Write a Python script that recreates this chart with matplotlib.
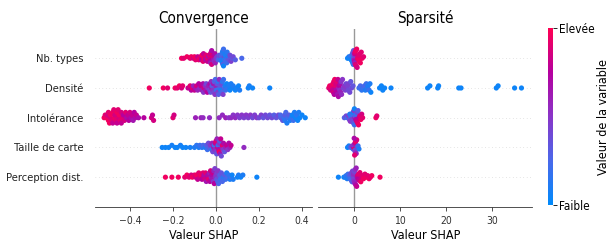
import numpy as np
import matplotlib
matplotlib.use("Agg")
import matplotlib.pyplot as plt
from matplotlib.colors import LinearSegmentedColormap

# ------------------------------
# DATA
# ------------------------------
features = ["Nb. types", "Densité", "Intolérance", "Taille de carte", "Perception dist."]
panel_titles = ["Convergence", "Sparsité"]

conv_types_shap = [-0.16, -0.15, -0.135, -0.12, -0.115, -0.105, -0.10, -0.095, -0.09, -0.085,
                   -0.08, -0.075, -0.07, -0.068, -0.065, -0.06, -0.058, -0.055, -0.05, -0.048,
                   -0.045, -0.04, -0.038, -0.035, -0.03, -0.03, -0.028, -0.025, -0.025, -0.022,
                   -0.02, -0.02, -0.018, -0.015, -0.012, -0.01, -0.008, -0.005, -0.003, 0.0,
                   0.005, 0.01, 0.015, 0.018, 0.02, 0.022, 0.025, 0.027, 0.03, 0.03,
                   0.03, 0.032, 0.033, 0.035, 0.035, 0.037, 0.04, 0.04, 0.042, 0.045,
                   0.047, 0.05, 0.052, 0.055, 0.058, 0.06, 0.065, 0.07, 0.075, 0.08,
                   0.09, 0.12]
conv_types_val = [0.95, 0.9, 0.95, 0.9, 0.95, 0.85, 0.95, 0.9, 0.95, 0.8,
                  0.9, 0.95, 0.85, 0.75, 0.95, 0.9, 0.8, 0.95, 0.85, 0.7,
                  0.9, 0.8, 0.95, 0.7, 0.85, 0.9, 0.75, 0.8, 0.6, 0.9,
                  0.85, 0.7, 0.75, 0.9, 0.65, 0.8, 0.55, 0.7, 0.6, 0.5,
                  0.45, 0.3, 0.35, 0.2, 0.4, 0.15, 0.3, 0.1, 0.2, 0.05,
                  0.15, 0.3, 0.1, 0.05, 0.2, 0.1, 0.4, 0.15, 0.1, 0.25,
                  0.1, 0.2, 0.15, 0.3, 0.1, 0.35, 0.4, 0.45, 0.35, 0.4,
                  0.3, 0.25]

conv_dens_shap = [-0.31, -0.245, -0.225, -0.19, -0.18, -0.17, -0.16, -0.155, -0.13, -0.12,
                  -0.115, -0.11, -0.105, -0.10, -0.095, -0.09, -0.085, -0.08, -0.075, -0.07,
                  -0.065, -0.06, -0.058, -0.055, -0.05, -0.048, -0.045, -0.04, -0.038, -0.035,
                  -0.03, -0.028, -0.025, -0.022, -0.02, -0.018, -0.015, -0.012, -0.01, -0.008,
                  -0.005, -0.003, 0.0, 0.0, 0.003, 0.005, 0.008, 0.01, 0.012, 0.015,
                  0.018, 0.02, 0.022, 0.025, 0.028, 0.03, 0.033, 0.035, 0.04, 0.042,
                  0.045, 0.05, 0.055, 0.06, 0.065, 0.07, 0.075, 0.08, 0.09, 0.095,
                  0.105, 0.11, 0.15, 0.155, 0.17, 0.25]
conv_dens_val = [0.95, 0.95, 0.9, 0.95, 0.9, 0.95, 0.85, 0.9, 0.8, 0.9,
                 0.75, 0.9, 0.6, 0.8, 0.65, 0.85, 0.6, 0.75, 0.55, 0.8,
                 0.6, 0.7, 0.5, 0.85, 0.55, 0.65, 0.4, 0.75, 0.5, 0.6,
                 0.45, 0.7, 0.35, 0.55, 0.6, 0.3, 0.5, 0.65, 0.4, 0.3,
                 0.5, 0.25, 0.4, 0.6, 0.2, 0.35, 0.45, 0.15, 0.3, 0.55,
                 0.2, 0.35, 0.1, 0.4, 0.25, 0.15, 0.45, 0.2, 0.3, 0.1,
                 0.2, 0.05, 0.15, 0.1, 0.05, 0.1, 0.05, 0.1, 0.05, 0.08,
                 0.05, 0.1, 0.05, 0.08, 0.05, 0.05]

conv_intol_shap = [-0.52, -0.515, -0.51, -0.505, -0.50, -0.50, -0.495, -0.49, -0.49, -0.485,
                   -0.48, -0.48, -0.475, -0.47, -0.47, -0.465, -0.46, -0.46, -0.455, -0.45,
                   -0.45, -0.445, -0.44, -0.44, -0.435, -0.43, -0.425, -0.42, -0.415, -0.41,
                   -0.405, -0.40, -0.395, -0.39, -0.385, -0.38, -0.375, -0.37, -0.36, -0.335,
                   -0.30, -0.295, -0.29, -0.20, -0.195, -0.095, -0.07, -0.06, -0.03, 0.015,
                   0.03, 0.045, 0.06, 0.07, 0.08, 0.09, 0.10, 0.11, 0.12, 0.13,
                   0.14, 0.15, 0.16, 0.17, 0.18, 0.19, 0.20, 0.21, 0.22, 0.23,
                   0.24, 0.25, 0.26, 0.27, 0.28, 0.29, 0.30, 0.30, 0.31, 0.315,
                   0.32, 0.32, 0.325, 0.33, 0.335, 0.34, 0.345, 0.35, 0.355, 0.36,
                   0.365, 0.37, 0.375, 0.38, 0.385, 0.39, 0.40, 0.415]
conv_intol_val = [0.95, 0.9, 0.95, 0.85, 0.95, 0.9, 0.95, 0.85, 0.95, 0.9,
                  0.95, 0.8, 0.9, 0.95, 0.85, 0.9, 0.95, 0.8, 0.9, 0.85,
                  0.95, 0.9, 0.85, 0.8, 0.9, 0.75, 0.85, 0.9, 0.7, 0.8,
                  0.75, 0.85, 0.7, 0.8, 0.65, 0.75, 0.7, 0.8, 0.7, 0.75,
                  0.85, 0.8, 0.85, 0.9, 0.85, 0.6, 0.6, 0.55, 0.55, 0.55,
                  0.55, 0.6, 0.5, 0.55, 0.5, 0.55, 0.5, 0.45, 0.5, 0.45,
                  0.5, 0.45, 0.5, 0.4, 0.45, 0.5, 0.4, 0.45, 0.35, 0.4,
                  0.4, 0.35, 0.4, 0.3, 0.35, 0.4, 0.3, 0.25, 0.35, 0.2,
                  0.3, 0.15, 0.25, 0.1, 0.2, 0.3, 0.1, 0.15, 0.05, 0.2,
                  0.1, 0.05, 0.15, 0.05, 0.1, 0.05, 0.05, 0.05]

conv_size_shap = [-0.25, -0.235, -0.22, -0.205, -0.19, -0.18, -0.165, -0.155, -0.14, -0.12,
                  -0.10, -0.09, -0.08, -0.075, -0.065, -0.06, -0.05, -0.045, -0.04, -0.035,
                  -0.03, -0.025, -0.02, -0.018, -0.015, -0.01, -0.008, -0.005, -0.003, 0.0,
                  0.0, 0.003, 0.005, 0.008, 0.01, 0.012, 0.015, 0.015, 0.018, 0.02,
                  0.022, 0.025, 0.028, 0.03, 0.033, 0.035, 0.04, 0.045, 0.05, 0.055,
                  0.06, 0.065, 0.07, 0.13]
conv_size_val = [0.05, 0.05, 0.05, 0.08, 0.05, 0.05, 0.08, 0.05, 0.05, 0.08,
                 0.1, 0.15, 0.1, 0.2, 0.15, 0.25, 0.1, 0.3, 0.2, 0.4,
                 0.3, 0.5, 0.15, 0.6, 0.4, 0.7, 0.25, 0.55, 0.8, 0.45,
                 0.9, 0.35, 0.6, 0.85, 0.2, 0.7, 0.5, 0.95, 0.3, 0.65,
                 0.8, 0.4, 0.6, 0.9, 0.5, 0.7, 0.35, 0.6, 0.8, 0.5,
                 0.7, 0.6, 0.8, 0.55]

conv_perc_shap = [-0.235, -0.205, -0.175, -0.145, -0.135, -0.125, -0.115, -0.11, -0.10, -0.095,
                  -0.09, -0.085, -0.08, -0.075, -0.07, -0.065, -0.06, -0.058, -0.055, -0.05,
                  -0.048, -0.045, -0.04, -0.038, -0.035, -0.03, -0.028, -0.025, -0.022, -0.02,
                  -0.018, -0.015, -0.012, -0.01, -0.008, -0.005, -0.003, 0.0, 0.003, 0.005,
                  0.008, 0.01, 0.012, 0.015, 0.018, 0.02, 0.025, 0.03, 0.035, 0.04,
                  0.045, 0.05, 0.055, 0.06, 0.065, 0.07, 0.075, 0.08, 0.10, 0.105,
                  0.115, 0.125, 0.19]
conv_perc_val = [0.95, 0.95, 0.95, 0.9, 0.95, 0.9, 0.85, 0.95, 0.9, 0.85,
                 0.95, 0.8, 0.9, 0.85, 0.95, 0.75, 0.9, 0.8, 0.7, 0.85,
                 0.9, 0.65, 0.8, 0.7, 0.9, 0.6, 0.75, 0.85, 0.55, 0.7,
                 0.65, 0.8, 0.5, 0.6, 0.75, 0.45, 0.55, 0.5, 0.35, 0.45,
                 0.3, 0.5, 0.25, 0.4, 0.3, 0.2, 0.35, 0.25, 0.15, 0.3,
                 0.2, 0.1, 0.25, 0.15, 0.1, 0.2, 0.05, 0.1, 0.05, 0.1,
                 0.05, 0.1, 0.05]

spars_types_shap = [-1.5, -1.2, -1.0, -0.8, -0.7, -0.6, -0.5, -0.4, -0.35, -0.3,
                    -0.25, -0.2, -0.15, -0.1, -0.05, 0.0, 0.0, 0.05, 0.1, 0.15,
                    0.2, 0.3, 0.4, 0.5, 0.6, 0.7, 0.8, 0.9, 1.0, 1.1,
                    1.2, 1.3, 1.5, 1.7, 2.0]
spars_types_val = [0.05, 0.1, 0.05, 0.15, 0.05, 0.2, 0.1, 0.3, 0.15, 0.4,
                   0.2, 0.35, 0.5, 0.3, 0.6, 0.5, 0.7, 0.8, 0.6, 0.9,
                   0.85, 0.95, 0.9, 0.95, 0.85, 0.95, 0.9, 0.95, 0.9, 0.95,
                   0.9, 0.95, 0.9, 0.95, 0.9]

spars_dens_shap = [-5.6, -5.4, -5.2, -5.0, -5.0, -4.8, -4.7, -4.6, -4.5, -4.4,
                   -4.3, -4.2, -4.1, -4.0, -4.0, -3.9, -3.8, -3.7, -3.6, -3.5,
                   -3.4, -3.3, -3.2, -3.1, -3.0, -2.9, -2.8, -2.6, -2.4, -2.2,
                   -2.0, -1.8, -1.6, -1.5, -1.4, -1.2, -1.0, -0.8, -0.6, -0.3,
                   1.0, 1.3, 1.6, 1.9, 2.2, 2.4, 2.6, 2.8, 3.0, 3.2,
                   3.4, 3.6, 5.5, 5.9, 6.2, 6.6, 8.0, 16.0, 16.5, 18.2,
                   18.4, 22.8, 23.3, 31.0, 31.4, 35.0, 36.5]
spars_dens_val = [0.9, 0.95, 0.85, 0.95, 0.9, 0.8, 0.95, 0.85, 0.9, 0.75,
                  0.95, 0.8, 0.9, 0.7, 0.85, 0.75, 0.9, 0.65, 0.8, 0.7,
                  0.6, 0.75, 0.55, 0.7, 0.6, 0.5, 0.55, 0.5, 0.45, 0.5,
                  0.45, 0.4, 0.5, 0.45, 0.4, 0.45, 0.4, 0.35, 0.4, 0.35,
                  0.2, 0.25, 0.15, 0.2, 0.25, 0.1, 0.2, 0.15, 0.1, 0.2,
                  0.1, 0.05, 0.05, 0.05, 0.05, 0.05, 0.05, 0.05, 0.05, 0.05,
                  0.05, 0.05, 0.05, 0.05, 0.05, 0.05, 0.05]

spars_intol_shap = [-2.2, -1.8, -1.5, -1.3, -1.1, -1.0, -0.9, -0.8, -0.7, -0.6,
                    -0.5, -0.4, -0.3, -0.2, -0.1, 0.0, 0.0, 0.1, 0.2, 0.3,
                    0.4, 0.5, 0.6, 0.7, 0.8, 0.9, 1.0, 1.2, 1.4, 1.6,
                    1.8, 4.7, 4.9]
spars_intol_val = [0.3, 0.4, 0.2, 0.45, 0.35, 0.1, 0.5, 0.3, 0.15, 0.45,
                   0.2, 0.4, 0.1, 0.35, 0.5, 0.2, 0.05, 0.6, 0.3, 0.7,
                   0.2, 0.85, 0.4, 0.9, 0.3, 0.95, 0.8, 0.9, 0.95, 0.85,
                   0.9, 0.95, 0.9]

spars_size_shap = [-1.5, -1.2, -0.8, -0.5, -0.3, -0.2, -0.1, 0.0, 0.0, 0.1,
                   0.15, 0.2, 0.3, 0.4, 0.5, 0.6, 0.8, 1.0, 0.05, -0.05]
spars_size_val = [0.05, 0.1, 0.3, 0.5, 0.2, 0.7, 0.4, 0.9, 0.6, 0.3,
                  0.8, 0.5, 0.95, 0.6, 0.85, 0.4, 0.2, 0.1, 0.9, 0.7]

spars_perc_shap = [-3.5, -2.3, -2.0, -1.8, -1.6, -1.4, -1.2, -1.0, -0.9, -0.8,
                   -0.7, -0.6, -0.5, -0.4, -0.3, -0.25, -0.2, -0.15, -0.1, -0.05,
                   0.0, 0.0, 0.1, 0.2, 0.3, 0.4, 0.5, 0.6, 0.7, 0.8,
                   0.9, 1.0, 1.2, 1.4, 1.6, 1.8, 2.0, 2.3, 2.6, 2.9,
                   3.2, 3.5, 3.8, 5.6]
spars_perc_val = [0.05, 0.05, 0.1, 0.15, 0.1, 0.2, 0.15, 0.3, 0.2, 0.35,
                  0.25, 0.4, 0.3, 0.45, 0.35, 0.5, 0.4, 0.55, 0.45, 0.5,
                  0.55, 0.4, 0.6, 0.5, 0.7, 0.6, 0.8, 0.65, 0.85, 0.75,
                  0.9, 0.8, 0.9, 0.95, 0.85, 0.9, 0.95, 0.9, 0.95, 0.9,
                  0.95, 0.9, 0.95, 0.95]

conv_rows = [(conv_types_shap, conv_types_val), (conv_dens_shap, conv_dens_val),
             (conv_intol_shap, conv_intol_val), (conv_size_shap, conv_size_val),
             (conv_perc_shap, conv_perc_val)]
spars_rows = [(spars_types_shap, spars_types_val), (spars_dens_shap, spars_dens_val),
              (spars_intol_shap, spars_intol_val), (spars_size_shap, spars_size_val),
              (spars_perc_shap, spars_perc_val)]

conv_xticks = [-0.4, -0.2, 0.0, 0.2, 0.4]
spars_xticks = [0, 10, 20, 30]

# the reference text looks condensed
plt.rcParams["font.family"] = "DejaVu Sans"
plt.rcParams["font.stretch"] = "condensed"

# shap-like red/blue colormap
red_blue = LinearSegmentedColormap.from_list(
    "red_blue", ["#008bfb", "#4a68ea", "#8a35c8", "#b5009f", "#ff0052"])


def swarm_offsets(shaps, px_per_unit, bin_px=4.0, row_height=0.4):
    # shap style stacking, bins sized in screen pixels
    shaps = np.asarray(shaps, dtype=float)
    span = shaps.max() - shaps.min()
    nbins = max(1, int(round(span * px_per_unit / bin_px)))
    quant = np.round(nbins * (shaps - shaps.min()) / (span + 1e-8))
    inds = np.argsort(quant, kind="stable")
    layer = 0
    last_bin = -1
    ys = np.zeros(len(shaps))
    for ind in inds:
        if quant[ind] != last_bin:
            layer = 0
        ys[ind] = np.ceil(layer / 2) * ((layer % 2) * 2 - 1)
        layer += 1
        last_bin = quant[ind]
    ys *= 0.9 * (row_height / np.max(ys + 1))
    return ys


def beeswarm(ax, rows, xlim, xticks, title, show_labels, width_px):
    n = len(rows)
    px_per_unit = width_px / (xlim[1] - xlim[0])
    for i, (shaps, vals) in enumerate(rows):
        pos = n - 1 - i
        ax.axhline(pos, color="#cccccc", lw=0.5, dashes=(1, 4), zorder=-1)
        ys = swarm_offsets(shaps, px_per_unit)
        ax.scatter(shaps, pos + ys, c=vals, cmap=red_blue, vmin=0, vmax=1,
                   s=14, linewidths=0, zorder=3)
    ax.axvline(0, color="#999999", lw=1, zorder=2)
    ax.set_xlim(*xlim)
    ax.set_ylim(-1, n)
    ax.set_xticks(xticks)
    ax.set_yticks(range(n))
    if show_labels:
        ax.set_yticklabels(features[::-1], fontsize=8, color="#222222")
    else:
        ax.set_yticklabels([])
    ax.tick_params(axis="y", length=0, pad=8)
    ax.tick_params(axis="x", labelsize=7.5, colors="#333333", length=3, width=0.6)
    for side in ["top", "right", "left"]:
        ax.spines[side].set_visible(False)
    ax.spines["bottom"].set_color("#333333")
    ax.spines["bottom"].set_linewidth(0.6)
    ax.set_xlabel("Valeur SHAP", fontsize=9, labelpad=2)
    ax.set_title(title, fontsize=11, pad=4)


fig = plt.figure(figsize=(6.12, 2.44), dpi=100)
ax1 = fig.add_axes([0.155, 0.152, 0.355, 0.731])
ax2 = fig.add_axes([0.520, 0.152, 0.350, 0.731])
cax = fig.add_axes([0.895, 0.16, 0.009, 0.725])

beeswarm(ax1, conv_rows, (-0.563, 0.447), conv_xticks, panel_titles[0], True, 217)
beeswarm(ax2, spars_rows, (-7.9, 38.9), spars_xticks, panel_titles[1], False, 214)

sm = plt.cm.ScalarMappable(cmap=red_blue, norm=plt.Normalize(0, 1))
cb = fig.colorbar(sm, cax=cax, ticks=[0, 1])
cb.set_ticklabels(["Faible", "Elevée"])
cb.ax.tick_params(labelsize=8.5, length=3, width=0.6, pad=1)
cb.outline.set_visible(False)
cb.set_label("Valeur de la variable", fontsize=9, labelpad=2)

plt.savefig("out.png", dpi=100)
plt.close()
